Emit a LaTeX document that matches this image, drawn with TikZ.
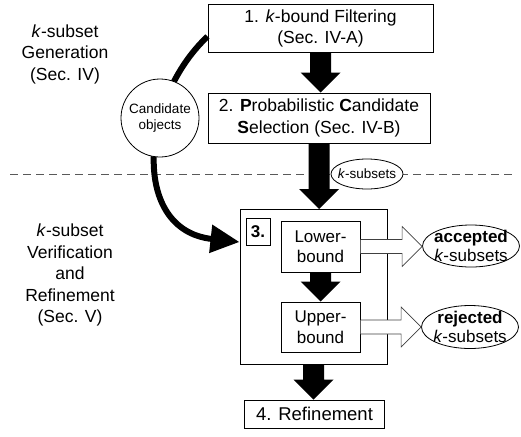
\documentclass[tikz,border=0pt]{standalone}
\usepackage{fontspec}
\setmainfont{Liberation Sans}
\usetikzlibrary{arrows.meta,shapes.geometric,calc}
\newcommand\blockarrow[2]{%
  \fill let \p1=(#1), \p2=(#2) in
    (\x1-10.5pt,\y1) -- (\x1-10.5pt,\y2+20pt) -- (\x1-20pt,\y2+20pt) -- (\x1,\y2)
    -- (\x1+20pt,\y2+20pt) -- (\x1+10.5pt,\y2+20pt) -- (\x1+10.5pt,\y1) -- cycle;}
\newcommand\openarrowto[2]{%
  \path[openarrow] let \p1=(#1), \p2=(#2) in
    (\x1,\y1+7pt) -- (\x2-20pt,\y1+7pt) -- (\x2-20pt,\y1+20pt) -- (\x2,\y1)
    -- (\x2-20pt,\y1-20pt) -- (\x2-20pt,\y1-7pt) -- (\x1,\y1-7pt);}
\begin{document}
\begin{tikzpicture}[x=1pt,y=-1pt,
  box/.style={draw, line width=1pt, fill=white, inner sep=0pt, align=center, font=\fontsize{17.5}{21.5}\selectfont},
  oval/.style={draw, ellipse, line width=0.8pt, fill=white, inner sep=0pt},
  ovaltext/.style={align=center, font=\fontsize{17}{19.5}\selectfont},
  sidetext/.style={align=center, font=\fontsize{17.5}{21.5}\selectfont},
  openarrow/.style={draw=black!75, line width=0.6pt, fill=white},
  curvearrow/.style={line width=6pt, -{Triangle[width=27pt,length=29pt]}},
  sepline/.style={draw=black!65, line width=1pt, dash pattern=on 8pt off 5pt}
]
\useasboundingbox (0,0) rectangle (521,436);

% separator line
\coordinate (dl) at (10,174);
\coordinate (dr) at (512,174);
\draw[sepline] (dl) -- (dr);

% side texts
\node[sidetext] (gen) at (65,54) {\textit{k}-subset\\Generation\\(Sec. IV)};
\node[sidetext] (ver) at (70,275) {\textit{k}-subset\\Verification\\and\\Refinement\\(Sec. V)};

% boxes
\node[box, minimum width=225, minimum height=47] (b1) at (320.5,28.5) {1. \textit{k}-bound Filtering\\(Sec. IV-A)};
\node[box, minimum width=222, minimum height=50] (b2) at (319,118) {2. \textbf{P}robabilistic \textbf{C}andidate\\\textbf{S}election (Sec. IV-B)};
\node[box, minimum width=147, minimum height=155] (b3) at (313.5,287) {};
\node[box, minimum width=24, minimum height=27, font=\fontsize{17}{20}\selectfont\bfseries] (three) at (258,232) {3.};
\node[box, minimum width=79, minimum height=51, font=\fontsize{17}{20.5}\selectfont] (lb) at (320.5,246.5) {Lower-\\bound};
\node[box, minimum width=79, minimum height=50, font=\fontsize{17}{20.5}\selectfont] (ub) at (320.5,327) {Upper-\\bound};
\node[box, minimum width=140, minimum height=28, font=\fontsize{18.5}{20}\selectfont] (b4) at (314.5,414) {4. Refinement};

% ellipses
\node[oval, minimum width=97, minimum height=42, label={[ovaltext]center:{\textbf{accepted}\\\textit{k}-subsets}}] (acc) at (471,246) {};
\node[oval, minimum width=97, minimum height=43, label={[ovaltext]center:{\textbf{rejected}\\\textit{k}-subsets}}] (rej) at (470,327) {};

% curved arrow (behind the circle)
\coordinate (cs) at ($(b1.west)+(0,8)$);
\coordinate (ce) at ($(b3.west)+(0,-45)$);
\draw[curvearrow] (cs) .. controls (140,100) and (130,230) .. (ce);
\node[draw, circle, line width=0.8pt, fill=white, minimum size=78, inner sep=0pt, align=center, font=\fontsize{13.5}{16}\selectfont] (cand) at (160,118) {Candidate\\objects};

% block arrows
\blockarrow{b1.south}{b2.north}
\blockarrow{b2.south}{b3.north}
\blockarrow{lb.south}{ub.north}
\blockarrow{b3.south}{b4.north}

\node[oval, minimum width=72, minimum height=30, label={[ovaltext, font=\fontsize{13.5}{16}\selectfont]center:{\textit{k}-subsets}}] (kss) at (367,174) {};

% open arrows
\openarrowto{lb.east}{acc.west}
\openarrowto{ub.east}{rej.west}
\end{tikzpicture}
\end{document}
